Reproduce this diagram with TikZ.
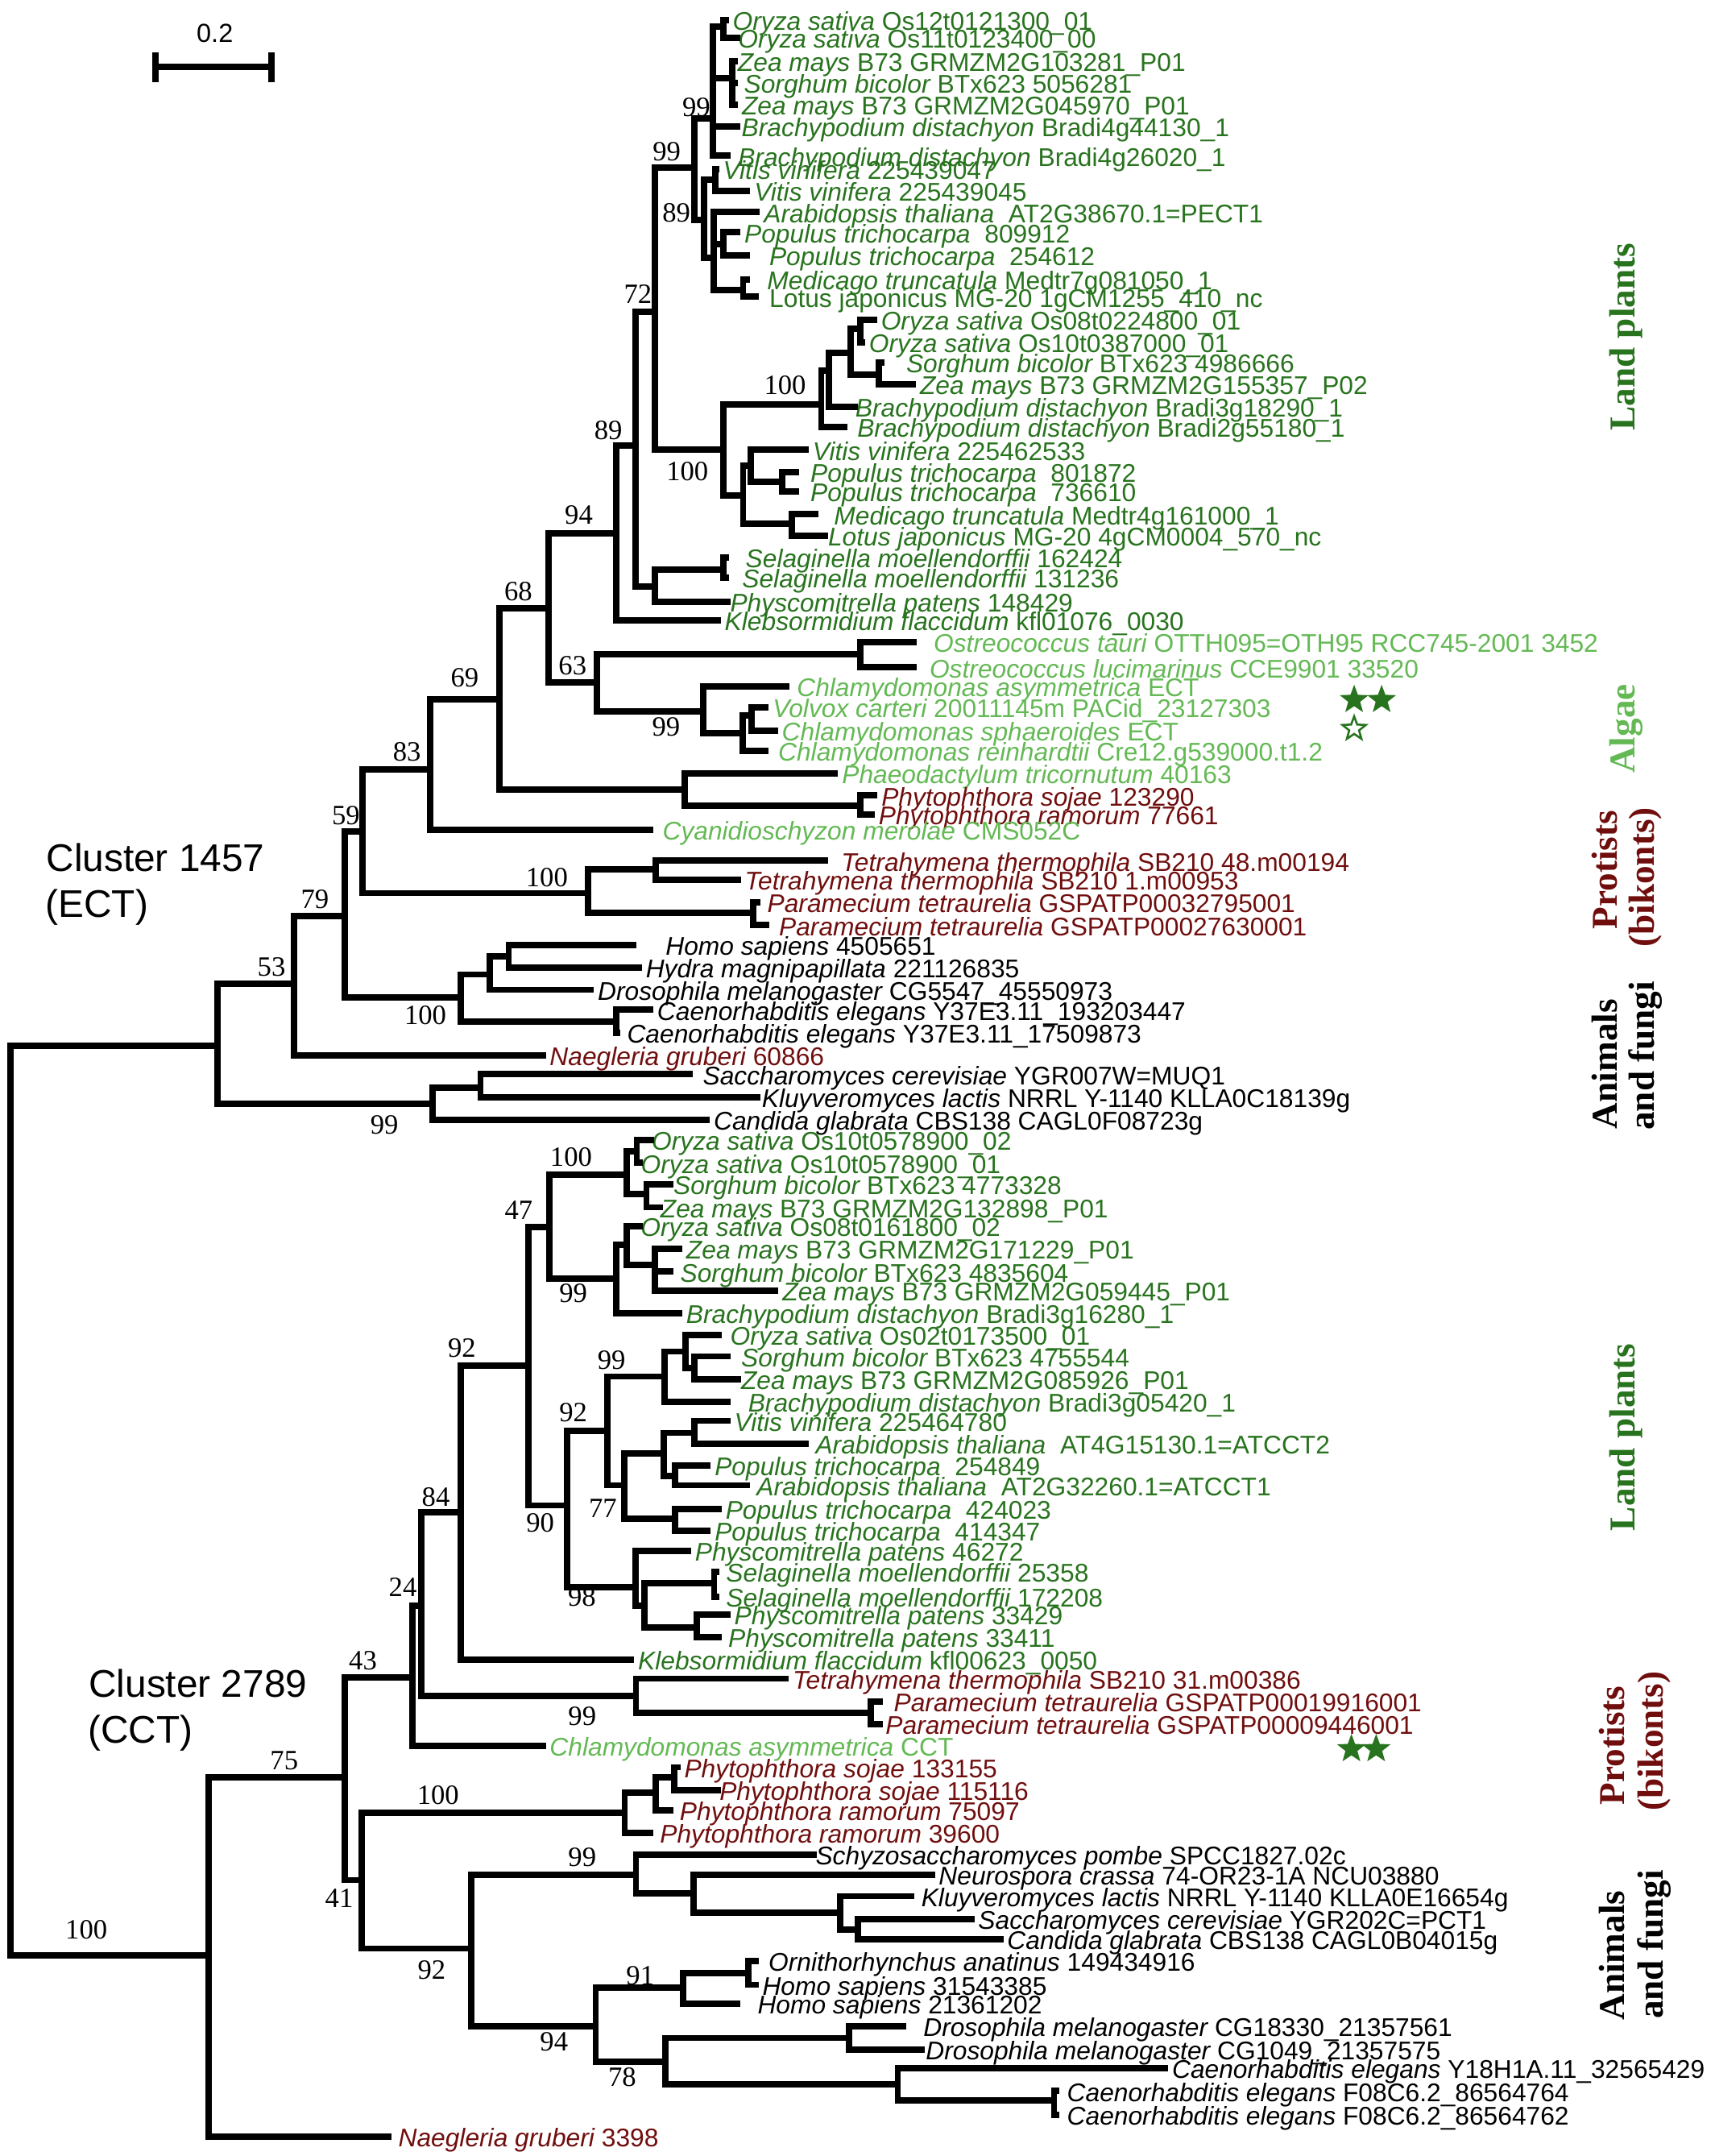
\documentclass[tikz,border=0pt]{standalone}
\usepackage{fontspec}
\usetikzlibrary{shapes.geometric}
\setmainfont{Liberation Sans}
\newfontfamily\serifnum{Liberation Serif}
\definecolor{landgreen}{RGB}{40,115,30}
\definecolor{algagreen}{RGB}{100,185,85}
\definecolor{protred}{RGB}{112,14,14}
\newcommand\taxon[1]{{\itshape #1}}
\newcommand\leaffont{\fontsize{18.6}{20}\selectfont}
\newcommand\bootfont{\serifnum\fontsize{20.3}{22}\selectfont}
\newcommand\groupfont{\serifnum\bfseries\fontsize{26.5}{28}\selectfont}
\newcommand\clusfont{\fontsize{28}{33}\selectfont}
\newcommand\scalefont{\fontsize{19}{21}\selectfont}
\tikzstyle{branch} = [line width=4.6pt, line cap=rect]
\tikzstyle{leaf} = [anchor=west, inner xsep=5pt, inner ysep=0pt,
    text height=18.6pt, text depth=3.7pt, font=\leaffont]
\tikzstyle{land} = [text=landgreen]
\tikzstyle{alga} = [text=algagreen]
\tikzstyle{prot} = [text=protred]
\tikzstyle{boot} = [inner sep=0pt, font=\bootfont]
\tikzstyle{group} = [rotate=90, anchor=base, inner sep=0pt, font=\groupfont]
\tikzstyle{clus} = [anchor=base west, inner sep=0pt, font=\clusfont]
\tikzstyle{starfill} = [star, star points=5, star point ratio=2.4,
    fill=landgreen, inner sep=0pt, minimum size=22pt]
\tikzstyle{starline} = [star, star points=5, star point ratio=2.4,
    draw=landgreen, line width=1.5pt, inner sep=0pt, minimum size=18pt]

\begin{document}
\begin{tikzpicture}[x=1pt, y=-1pt]
    \useasboundingbox (0,0) rectangle (1247,1568);
    % scale bar
    \coordinate (sbl) at (113.3,48.8);
    \coordinate (sbr) at (197.5,48.8);
    \draw [line width=4.6pt] (sbl) -- (sbr);
    \draw [line width=4.6pt] ([yshift=10.7pt]sbl) -- ([yshift=-10.8pt]sbl);
    \draw [line width=4.6pt] ([yshift=10.7pt]sbr) -- ([yshift=-10.8pt]sbr);
    \node [inner sep=0pt, font=\scalefont] (sblab) at (156.3,24.4) {0.2};

    % internal nodes, cluster 1457
    \coordinate (root) at (7.8,1091);
    \coordinate (n53) at (158.3,760.8);
    \coordinate (n79) at (213.8,715.5);
    \coordinate (n59) at (250.8,666.1);
    \coordinate (n83) at (263.6,604.5);
    \coordinate (n69) at (313,559.6);
    \coordinate (n68) at (363.5,508.4);
    \coordinate (n94) at (398.8,442.4);
    \coordinate (n89b) at (448.2,387.7);
    \coordinate (n72) at (462.4,324.2);
    \coordinate (n99b) at (476.6,226.6);
    \coordinate (n99a) at (505,122);
    \coordinate (nB) at (518.5,86);
    \coordinate (nA) at (526.3,19.5);
    \coordinate (nZS) at (532.6,56.6);
    \coordinate (n89) at (512.1,160.2);
    \coordinate (nVC) at (520.1,130.9);
    \coordinate (nRos) at (519.2,187.5);
    \coordinate (nPop) at (526.3,177.7);
    \coordinate (nML) at (540.5,211);
    \coordinate (n100a) at (526.3,327.2);
    \coordinate (nMono) at (597.4,294);
    \coordinate (nIn1) at (603,269.5);
    \coordinate (nIn2) at (618.7,256.8);
    \coordinate (nOC) at (625.8,239.3);
    \coordinate (nSZ) at (639.4,272.5);
    \coordinate (nDic) at (540.5,360.4);
    \coordinate (nDn1) at (546.2,338.9);
    \coordinate (nPop2) at (569,350.6);
    \coordinate (nML2) at (576,380.9);
    \coordinate (nSP) at (476.6,426.8);
    \coordinate (nSel) at (526.3,414.1);
    \coordinate (n63) at (434.1,496.1);
    \coordinate (nOst) at (625.8,475.6);
    \coordinate (nChl) at (511.5,517.6);
    \coordinate (nVCh) at (540,533.2);
    \coordinate (nVol) at (546.8,520.5);
    \coordinate (nPP) at (498,574.2);
    \coordinate (nPhy) at (625.8,585.9);
    \coordinate (nCil) at (427.6,649.5);
    \coordinate (nTet) at (477,632.3);
    \coordinate (nPar) at (548,663.7);
    \coordinate (nAni) at (335.1,725.6);
    \coordinate (nHHD) at (356.5,708.7);
    \coordinate (nHH) at (370,695.4);
    \coordinate (nCel) at (448.2,743.2);
    \coordinate (nYst) at (314.6,802.8);
    \coordinate (nSK) at (349.5,791);

    % internal nodes, cluster 2789
    \coordinate (mroot) at (151.7,1422);
    \coordinate (m75) at (250.8,1292.5);
    \coordinate (m43) at (300.2,1219.9);
    \coordinate (m24) at (306.6,1168);
    \coordinate (m84) at (335.2,1099.7);
    \coordinate (mB) at (384.4,993.3);
    \coordinate (mA) at (399.7,892.2);
    \coordinate (m100) at (455.9,854.5);
    \coordinate (mOC) at (463.2,837.5);
    \coordinate (mSZ) at (470.2,868.2);
    \coordinate (m99) at (448,929.7);
    \coordinate (mN1) at (455.9,905.3);
    \coordinate (mN2) at (476.5,920);
    \coordinate (m90) at (412.4,1094.8);
    \coordinate (m92b) at (441.6,1040.7);
    \coordinate (m99b) at (483.5,1001.1);
    \coordinate (mN3) at (498.8,982.9);
    \coordinate (mSZ3) at (505.1,994.7);
    \coordinate (m77) at (454.3,1080.2);
    \coordinate (mN4) at (482.9,1056.8);
    \coordinate (mVA) at (505.1,1042.1);
    \coordinate (mPA) at (490.8,1073.4);
    \coordinate (mPop3) at (490.8,1104.6);
    \coordinate (m98) at (462.2,1154.4);
    \coordinate (mN5) at (468.6,1168);
    \coordinate (mSel2) at (519.4,1151.5);
    \coordinate (mPh2) at (506.7,1183.7);
    \coordinate (mTP) at (462.6,1233.5);
    \coordinate (mPar2) at (633.2,1245.7);
    \coordinate (m41) at (263.2,1367.3);
    \coordinate (mPhy) at (454.4,1318.5);
    \coordinate (mPh1) at (477,1303.8);
    \coordinate (mPhC) at (490.5,1292.5);
    \coordinate (m92c) at (342.7,1417.1);
    \coordinate (mFun) at (462.6,1363.4);
    \coordinate (mF1) at (504.5,1377.1);
    \coordinate (mF2) at (611.2,1390.8);
    \coordinate (mSC) at (623.8,1403.5);
    \coordinate (mAnm) at (433.3,1473.8);
    \coordinate (mVert) at (497.1,1445.5);
    \coordinate (mOH) at (544.2,1434.8);
    \coordinate (m78) at (484,1499.2);
    \coordinate (mDro) at (617.5,1482.1);
    \coordinate (mCe) at (653,1515.8);
    \coordinate (mCeC) at (766.7,1527.5);

    % leaves, cluster 1457
    \node [leaf, land] (u1) at (527.8,14.6) {\taxon{Oryza sativa} Os12t0121300\_01};
    \node [leaf, land, inner xsep=0.5pt] (u2) at (536.3,27.3) {\taxon{Oryza sativa} Os11t0123400\_00};
    \node [leaf, land, inner xsep=2pt] (u3) at (534.5,44.5) {\taxon{Zea mays} B73 GRMZM2G103281\_P01};
    \node [leaf, land, inner xsep=6.5pt] (u4) at (534.5,60.5) {\taxon{Sorghum bicolor} BTx623 5056281};
    \node [leaf, land] (u5) at (534.5,76.2) {\taxon{Zea mays} B73 GRMZM2G045970\_P01};
    \node [leaf, land, inner xsep=3pt] (u6) at (536.3,91.8) {\taxon{Brachypodium distachyon} Bradi4g44130\_1};
    \node [leaf, land, inner xsep=7.5pt] (u7) at (529.2,113.3) {\taxon{Brachypodium distachyon} Bradi4g26020\_1};
    \node [leaf, land] (u8) at (520.7,123) {\taxon{Vitis vinifera} 225439047};
    \node [leaf, land] (u9) at (543.4,138.7) {\taxon{Vitis vinifera} 225439045};
    \node [leaf, land] (u10) at (550.5,154.3) {\taxon{Arabidopsis thaliana}~~AT2G38670.1=PECT1};
    \node [leaf, land] (u11) at (536.3,169) {\taxon{Populus trichocarpa}~~809912};
    \node [leaf, land, inner xsep=16pt] (u12) at (543.4,185.5) {\taxon{Populus trichocarpa}~~254612};
    \node [leaf, land, inner xsep=14.5pt] (u13) at (543.4,203.1) {\taxon{Medicago truncatula} Medtr7g081050\_1};
    \node [leaf, land, inner xsep=10pt] (u14) at (549.5,215.8) {Lotus japonicus MG-20 1gCM1255\_410\_nc};
    \node [leaf, land] (u15) at (635.7,232.4) {\taxon{Oryza sativa} Os08t0224800\_01};
    \node [leaf, land] (u16) at (627,249) {\taxon{Oryza sativa} Os10t0387000\_01};
    \node [leaf, land, inner xsep=18pt] (u17) at (641,263.7) {\taxon{Sorghum bicolor} BTx623 4986666};
    \node [leaf, land] (u18) at (664,279.3) {\taxon{Zea mays} B73 GRMZM2G155357\_P02};
    \node [leaf, land, inner xsep=0.5pt] (u19) at (621.5,295.9) {\taxon{Brachypodium distachyon} Bradi3g18290\_1};
    \node [leaf, land, inner xsep=9pt] (u20) at (614.4,310.5) {\taxon{Brachypodium distachyon} Bradi2g55180\_1};
    \node [leaf, land] (u21) at (586,327.2) {\taxon{Vitis vinifera} 225462533};
    \node [leaf, land, inner xsep=10.5pt] (u22) at (578.9,343.4) {\taxon{Populus trichocarpa}~~801872};
    \node [leaf, land, inner xsep=10.5pt] (u23) at (578.9,357.4) {\taxon{Populus trichocarpa}~~736610};
    \node [leaf, land, inner xsep=13.5pt] (u24) at (593,374) {\taxon{Medicago truncatula} Medtr4g161000\_1};
    \node [leaf, land, inner xsep=2pt] (u25) at (600.2,389.7) {\taxon{Lotus japonicus} MG-20 4gCM0004\_570\_nc};
    \node [leaf, land, inner xsep=14.5pt] (u26) at (527.7,405.3) {\taxon{Selaginella moellendorffii} 162424};
    \node [leaf, land, inner xsep=12pt] (u27) at (527.7,420) {\taxon{Selaginella moellendorffii} 131236};
    \node [leaf, land, inner xsep=2pt] (u28) at (529,437.5) {\taxon{Physcomitrella patens} 148429};
    \node [leaf, land] (u29) at (522,451.2) {\taxon{Klebsormidium flaccidum} kfl01076\_0030};
    \node [leaf, alga, inner xsep=14.5pt] (u30) at (664.5,466.8) {\taxon{Ostreococcus tauri} OTTH095=OTH95 RCC745-2001 3452};
    \node [leaf, alga, inner xsep=11.5pt] (u31) at (664.5,485.4) {\taxon{Ostreococcus lucimarinus} CCE9901 33520};
    \node [leaf, alga, inner xsep=7.5pt] (u32) at (572,499) {\taxon{Chlamydomonas asymmetrica} ECT};
    \node [leaf, alga] (u33) at (556.9,514.6) {\taxon{Volvox carteri} 20011145m PACid\_23127303};
    \node [leaf, alga] (u34) at (563.6,531.3) {\taxon{Chlamydomonas sphaeroides} ECT};
    \node [leaf, alga, inner xsep=9pt] (u35) at (556.9,545.9) {\taxon{Chlamydomonas reinhardtii} Cre12.g539000.t1.2};
    \node [leaf, alga] (u36) at (607.3,562.5) {\taxon{Phaeodactylum tricornutum} 40163};
    \node [leaf, prot] (u37) at (636,578.5) {\taxon{Phytophthora sojae} 123290};
    \node [leaf, prot] (u38) at (634,592.2) {\taxon{Phytophthora ramorum} 77661};
    \node [leaf, alga, inner xsep=9pt] (u39) at (472.8,603.5) {\taxon{Cyanidioschyzon merolae} CMS052C};
    \node [leaf, prot, inner xsep=11.5pt] (u40) at (600.3,626) {\taxon{Tetrahymena thermophila} SB210 48.m00194};
    \node [leaf, prot] (u41) at (536.6,639.7) {\taxon{Tetrahymena thermophila} SB210 1.m00953};
    \node [leaf, prot, inner xsep=7pt] (u42) at (551,656.3) {\taxon{Paramecium tetraurelia} GSPATP00032795001};
    \node [leaf, prot, inner xsep=9.5pt] (u43) at (557,672.9) {\taxon{Paramecium tetraurelia} GSPATP00027630001};
    \node [leaf, inner xsep=23.5pt] (u44) at (460.5,687.2) {\taxon{Homo sapiens} 4505651};
    \node [leaf] (u45) at (464.6,703.6) {\taxon{Hydra magnipapillata} 221126835};
    \node [leaf] (u46) at (429.7,719.8) {\taxon{Drosophila melanogaster} CG5547\_45550973};
    \node [leaf] (u47) at (472.9,734.4) {\taxon{Caenorhabditis elegans} Y37E3.11\_193203447};
    \node [leaf, inner xsep=7pt] (u48) at (449,751) {\taxon{Caenorhabditis elegans} Y37E3.11\_17509873};
    \node [leaf, prot] (u49) at (394.7,767.6) {\taxon{Naegleria gruberi} 60866};
    \node [leaf, inner xsep=9.5pt] (u50) at (501.6,781.3) {\taxon{Saccharomyces cerevisiae} YGR007W=MUQ1};
    \node [leaf, inner xsep=3pt] (u51) at (551,797.9) {\taxon{Kluyveromyces lactis} NRRL Y-1140 KLLA0C18139g};
    \node [leaf] (u52) at (514,814.5) {\taxon{Candida glabrata} CBS138 CAGL0F08723g};

    % leaves, cluster 2789
    \node [leaf, land, inner xsep=0.5pt] (l53) at (473.4,829.2) {\taxon{Oryza sativa} Os10t0578900\_02};
    \node [leaf, land, inner xsep=1pt] (l54) at (465,845.7) {\taxon{Oryza sativa} Os10t0578900\_01};
    \node [leaf, land, inner xsep=2pt] (l55) at (487.7,861.4) {\taxon{Sorghum bicolor} BTx623 4773328};
    \node [leaf, land, inner xsep=0.5pt] (l56) at (479.7,878) {\taxon{Zea mays} B73 GRMZM2G132898\_P01};
    \node [leaf, land, inner xsep=0.5pt] (l57) at (465.4,891.7) {\taxon{Oryza sativa} Os08t0161800\_02};
    \node [leaf, land] (l58) at (494,908.3) {\taxon{Zea mays} B73 GRMZM2G171229\_P01};
    \node [leaf, land, inner xsep=7pt] (l59) at (487.7,924.8) {\taxon{Sorghum bicolor} BTx623 4835604};
    \node [leaf, land] (l60) at (564,938.5) {\taxon{Zea mays} B73 GRMZM2G059445\_P01};
    \node [leaf, land] (l61) at (494,955) {\taxon{Brachypodium distachyon} Bradi3g16280\_1};
    \node [leaf, land, inner xsep=8.5pt] (l62) at (522.6,970.7) {\taxon{Oryza sativa} Os02t0173500\_01};
    \node [leaf, land, inner xsep=10pt] (l63) at (529,986.4) {\taxon{Sorghum bicolor} BTx623 4755544};
    \node [leaf, land, inner xsep=2pt] (l64) at (536.9,1003) {\taxon{Zea mays} B73 GRMZM2G085926\_P01};
    \node [leaf, land, inner xsep=15pt] (l65) at (529,1019.7) {\taxon{Brachypodium distachyon} Bradi3g05420\_1};
    \node [leaf, land] (l66) at (529,1033.3) {\taxon{Vitis vinifera} 225464780};
    \node [leaf, land, inner xsep=7pt] (l67) at (586.1,1049.9) {\taxon{Arabidopsis thaliana}~~AT4G15130.1=ATCCT2};
    \node [leaf, land] (l68) at (514.7,1065.6) {\taxon{Populus trichocarpa}~~254849};
    \node [leaf, land, inner xsep=7pt] (l69) at (543.2,1080.2) {\taxon{Arabidopsis thaliana}~~AT2G32260.1=ATCCT1};
    \node [leaf, land] (l70) at (522.6,1097.4) {\taxon{Populus trichocarpa}~~424023};
    \node [leaf, land] (l71) at (514.7,1113.4) {\taxon{Populus trichocarpa}~~414347};
    \node [leaf, land] (l72) at (500.4,1128) {\taxon{Physcomitrella patens} 46272};
    \node [leaf, land, inner xsep=7pt] (l73) at (521,1143.1) {\taxon{Selaginella moellendorffii} 25358};
    \node [leaf, land, inner xsep=7pt] (l74) at (521,1161.3) {\taxon{Selaginella moellendorffii} 172208};
    \node [leaf, land] (l75) at (529,1174) {\taxon{Physcomitrella patens} 33429};
    \node [leaf, land, inner xsep=7pt] (l76) at (522.6,1190.5) {\taxon{Physcomitrella patens} 33411};
    \node [leaf, land] (l77) at (459,1207.2) {\taxon{Klebsormidium flaccidum} kfl00623\_0050};
    \node [leaf, prot] (l78) at (571.5,1220.8) {\taxon{Tetrahymena thermophila} SB210 31.m00386};
    \node [leaf, prot, inner xsep=10pt] (l79) at (640,1237.4) {\taxon{Paramecium tetraurelia} GSPATP00019916001};
    \node [leaf, prot, inner xsep=4pt] (l80) at (640,1254) {\taxon{Paramecium tetraurelia} GSPATP00009446001};
    \node [leaf, alga] (l81) at (394.7,1269.7) {\taxon{Chlamydomonas asymmetrica} CCT};
    \node [leaf, prot] (l82) at (492.6,1285.3) {\taxon{Phytophthora sojae} 133155};
    \node [leaf, prot, inner xsep=1pt] (l83) at (522.2,1301.9) {\taxon{Phytophthora sojae} 115116};
    \node [leaf, prot, inner xsep=7pt] (l84) at (487.3,1316.5) {\taxon{Phytophthora ramorum} 75097};
    \node [leaf, prot, inner xsep=7pt] (l85) at (472.9,1333.1) {\taxon{Phytophthora ramorum} 39600};
    \node [leaf, inner xsep=1pt] (l86) at (592.1,1348.8) {\taxon{Schyzosaccharomyces pombe} SPCC1827.02c};
    \node [leaf] (l87) at (677.7,1363.4) {\taxon{Neurospora crassa} 74-OR23-1A NCU03880};
    \node [leaf, inner xsep=7pt] (l88) at (663,1379) {\taxon{Kluyveromyces lactis} NRRL Y-1140 KLLA0E16654g};
    \node [leaf] (l89) at (706.4,1395.7) {\taxon{Saccharomyces cerevisiae} YGR202C=PCT1};
    \node [leaf] (l90) at (727.5,1410.3) {\taxon{Candida glabrata} CBS138 CAGL0B04015g};
    \node [leaf, inner xsep=9.5pt] (l91) at (549.4,1426) {\taxon{Ornithorhynchus anatinus} 149434916};
    \node [leaf] (l92) at (549.4,1443.5) {\taxon{Homo sapiens} 31543385};
    \node [leaf, inner xsep=14.5pt] (l93) at (536.4,1457.2) {\taxon{Homo sapiens} 21361202};
    \node [leaf, inner xsep=14.5pt] (l94) at (657,1473.8) {\taxon{Drosophila melanogaster} CG18330\_21357561};
    \node [leaf, inner xsep=3pt] (l95) at (670.3,1490.4) {\taxon{Drosophila melanogaster} CG1049\_21357575};
    \node [leaf] (l96) at (847.4,1504) {\taxon{Caenorhabditis elegans} Y18H1A.11\_32565429};
    \node [leaf, inner xsep=7.5pt] (l97) at (768.5,1520.7) {\taxon{Caenorhabditis elegans} F08C6.2\_86564764};
    \node [leaf, inner xsep=7.5pt] (l98) at (768.5,1538.2) {\taxon{Caenorhabditis elegans} F08C6.2\_86564762};
    \node [leaf, prot, inner xsep=7pt] (l99) at (282.6,1553.9) {\taxon{Naegleria gruberi} 3398};

    % branches, cluster 1457
    \draw [branch] (root) |- (n53);
    \draw [branch] (root) |- (mroot);
    \draw [branch] (n53) |- (n79);
    \draw [branch] (n53) |- (nYst);
    \draw [branch] (n79) |- (n59);
    \draw [branch] (n79) |- (u49.west);
    \draw [branch] (n59) |- (n83);
    \draw [branch] (n59) |- (nAni);
    \draw [branch] (n83) |- (n69);
    \draw [branch] (n83) |- (nCil);
    \draw [branch] (n69) |- (n68);
    \draw [branch] (n69) |- (u39.west);
    \draw [branch] (n68) |- (n94);
    \draw [branch] (n68) |- (nPP);
    \draw [branch] (n94) |- (n89b);
    \draw [branch] (n94) |- (n63);
    \draw [branch] (n89b) |- (n72);
    \draw [branch] (n89b) |- (u29.west);
    \draw [branch] (n72) |- (n99b);
    \draw [branch] (n72) |- (nSP);
    \draw [branch] (n99b) |- (n99a);
    \draw [branch] (n99b) |- (n100a);
    \draw [branch] (n99a) |- (nB);
    \draw [branch] (n99a) |- (n89);
    \draw [branch] (nB) |- (nA);
    \draw [branch] (nB) |- (nZS);
    \draw [branch] (nB) |- (u6.west);
    \draw [branch] (nB) |- (u7.west);
    \draw [branch] (nA) |- (u1.west);
    \draw [branch] (nA) |- (u2.west);
    \draw [branch] (nZS) |- (u3.west);
    \draw [branch] (nZS) |- (u4.west);
    \draw [branch] (nZS) |- (u5.west);
    \draw [branch] (n89) |- (nVC);
    \draw [branch] (n89) |- (nRos);
    \draw [branch] (nVC) |- (u8.west);
    \draw [branch] (nVC) |- (u9.west);
    \draw [branch] (nRos) |- (u10.west);
    \draw [branch] (nRos) |- (nPop);
    \draw [branch] (nRos) |- (nML);
    \draw [branch] (nPop) |- (u11.west);
    \draw [branch] (nPop) |- (u12.west);
    \draw [branch] (nML) |- (u13.west);
    \draw [branch] (nML) |- (u14.west);
    \draw [branch] (n100a) |- (nMono);
    \draw [branch] (n100a) |- (nDic);
    \draw [branch] (nMono) |- (nIn1);
    \draw [branch] (nMono) |- (u20.west);
    \draw [branch] (nIn1) |- (nIn2);
    \draw [branch] (nIn1) |- (u19.west);
    \draw [branch] (nIn2) |- (nOC);
    \draw [branch] (nIn2) |- (nSZ);
    \draw [branch] (nOC) |- (u15.west);
    \draw [branch] (nOC) |- (u16.west);
    \draw [branch] (nSZ) |- (u17.west);
    \draw [branch] (nSZ) |- (u18.west);
    \draw [branch] (nDic) |- (nDn1);
    \draw [branch] (nDic) |- (nML2);
    \draw [branch] (nDn1) |- (u21.west);
    \draw [branch] (nDn1) |- (nPop2);
    \draw [branch] (nPop2) |- (u22.west);
    \draw [branch] (nPop2) |- (u23.west);
    \draw [branch] (nML2) |- (u24.west);
    \draw [branch] (nML2) |- (u25.west);
    \draw [branch] (nSP) |- (nSel);
    \draw [branch] (nSP) |- (u28.west);
    \draw [branch] (nSel) |- (u26.west);
    \draw [branch] (nSel) |- (u27.west);
    \draw [branch] (n63) |- (nOst);
    \draw [branch] (n63) |- (nChl);
    \draw [branch] (nOst) |- (u30.west);
    \draw [branch] (nOst) |- (u31.west);
    \draw [branch] (nChl) |- (u32.west);
    \draw [branch] (nChl) |- (nVCh);
    \draw [branch] (nVCh) |- (nVol);
    \draw [branch] (nVCh) |- (u35.west);
    \draw [branch] (nVol) |- (u33.west);
    \draw [branch] (nVol) |- (u34.west);
    \draw [branch] (nPP) |- (u36.west);
    \draw [branch] (nPP) |- (nPhy);
    \draw [branch] (nPhy) |- (u37.west);
    \draw [branch] (nPhy) |- (u38.west);
    \draw [branch] (nCil) |- (nTet);
    \draw [branch] (nCil) |- (nPar);
    \draw [branch] (nTet) |- (u40.west);
    \draw [branch] (nTet) |- (u41.west);
    \draw [branch] (nPar) |- (u42.west);
    \draw [branch] (nPar) |- (u43.west);
    \draw [branch] (nAni) |- (nHHD);
    \draw [branch] (nAni) |- (nCel);
    \draw [branch] (nHHD) |- (nHH);
    \draw [branch] (nHHD) |- (u46.west);
    \draw [branch] (nHH) |- (u44.west);
    \draw [branch] (nHH) |- (u45.west);
    \draw [branch] (nCel) |- (u47.west);
    \draw [branch] (nCel) |- (u48.west);
    \draw [branch] (nYst) |- (nSK);
    \draw [branch] (nYst) |- (u52.west);
    \draw [branch] (nSK) |- (u50.west);
    \draw [branch] (nSK) |- (u51.west);

    % branches, cluster 2789
    \draw [branch] (mroot) |- (m75);
    \draw [branch] (mroot) |- (l99.west);
    \draw [branch] (m75) |- (m43);
    \draw [branch] (m75) |- (m41);
    \draw [branch] (m43) |- (m24);
    \draw [branch] (m43) |- (l81.west);
    \draw [branch] (m24) |- (m84);
    \draw [branch] (m24) |- (mTP);
    \draw [branch] (m84) |- (mB);
    \draw [branch] (m84) |- (l77.west);
    \draw [branch] (mB) |- (mA);
    \draw [branch] (mB) |- (m90);
    \draw [branch] (mA) |- (m100);
    \draw [branch] (mA) |- (m99);
    \draw [branch] (m100) |- (mOC);
    \draw [branch] (m100) |- (mSZ);
    \draw [branch] (mOC) |- (l53.west);
    \draw [branch] (mOC) |- (l54.west);
    \draw [branch] (mSZ) |- (l55.west);
    \draw [branch] (mSZ) |- (l56.west);
    \draw [branch] (m99) |- (mN1);
    \draw [branch] (m99) |- (l61.west);
    \draw [branch] (mN1) |- (l57.west);
    \draw [branch] (mN1) |- (mN2);
    \draw [branch] (mN2) |- (l58.west);
    \draw [branch] (mN2) |- (l59.west);
    \draw [branch] (mN2) |- (l60.west);
    \draw [branch] (m90) |- (m92b);
    \draw [branch] (m90) |- (m98);
    \draw [branch] (m92b) |- (m99b);
    \draw [branch] (m92b) |- (m77);
    \draw [branch] (m99b) |- (mN3);
    \draw [branch] (m99b) |- (l65.west);
    \draw [branch] (mN3) |- (l62.west);
    \draw [branch] (mN3) |- (mSZ3);
    \draw [branch] (mSZ3) |- (l63.west);
    \draw [branch] (mSZ3) |- (l64.west);
    \draw [branch] (m77) |- (mN4);
    \draw [branch] (m77) |- (mPop3);
    \draw [branch] (mN4) |- (mVA);
    \draw [branch] (mN4) |- (mPA);
    \draw [branch] (mVA) |- (l66.west);
    \draw [branch] (mVA) |- (l67.west);
    \draw [branch] (mPA) |- (l68.west);
    \draw [branch] (mPA) |- (l69.west);
    \draw [branch] (mPop3) |- (l70.west);
    \draw [branch] (mPop3) |- (l71.west);
    \draw [branch] (m98) |- (l72.west);
    \draw [branch] (m98) |- (mN5);
    \draw [branch] (mN5) |- (mSel2);
    \draw [branch] (mN5) |- (mPh2);
    \draw [branch] (mSel2) |- (l73.west);
    \draw [branch] (mSel2) |- (l74.west);
    \draw [branch] (mPh2) |- (l75.west);
    \draw [branch] (mPh2) |- (l76.west);
    \draw [branch] (mTP) |- (l78.west);
    \draw [branch] (mTP) |- (mPar2);
    \draw [branch] (mPar2) |- (l79.west);
    \draw [branch] (mPar2) |- (l80.west);
    \draw [branch] (m41) |- (mPhy);
    \draw [branch] (m41) |- (m92c);
    \draw [branch] (mPhy) |- (mPh1);
    \draw [branch] (mPhy) |- (l85.west);
    \draw [branch] (mPh1) |- (mPhC);
    \draw [branch] (mPh1) |- (l84.west);
    \draw [branch] (mPhC) |- (l82.west);
    \draw [branch] (mPhC) |- (l83.west);
    \draw [branch] (m92c) |- (mFun);
    \draw [branch] (m92c) |- (mAnm);
    \draw [branch] (mFun) |- (l86.west);
    \draw [branch] (mFun) |- (mF1);
    \draw [branch] (mF1) |- (l87.west);
    \draw [branch] (mF1) |- (mF2);
    \draw [branch] (mF2) |- (l88.west);
    \draw [branch] (mF2) |- (mSC);
    \draw [branch] (mSC) |- (l89.west);
    \draw [branch] (mSC) |- (l90.west);
    \draw [branch] (mAnm) |- (mVert);
    \draw [branch] (mAnm) |- (m78);
    \draw [branch] (mVert) |- (mOH);
    \draw [branch] (mVert) |- (l93.west);
    \draw [branch] (mOH) |- (l91.west);
    \draw [branch] (mOH) |- (l92.west);
    \draw [branch] (m78) |- (mDro);
    \draw [branch] (m78) |- (mCe);
    \draw [branch] (mDro) |- (l94.west);
    \draw [branch] (mDro) |- (l95.west);
    \draw [branch] (mCe) |- (l96.west);
    \draw [branch] (mCe) |- (mCeC);
    \draw [branch] (mCeC) |- (l97.west);
    \draw [branch] (mCeC) |- (l98.west);

    % bootstrap values
    \node [boot] (b1) at (506.5,78) {99};
    \node [boot] (b2) at (485,110) {99};
    \node [boot] (b3) at (492,155) {89};
    \node [boot] (b4) at (464,214) {72};
    \node [boot] (b5) at (571,280) {100};
    \node [boot] (b6) at (500,343) {100};
    \node [boot] (b7) at (442.5,313) {89};
    \node [boot] (b8) at (421,374.5) {94};
    \node [boot] (b9) at (377,430) {68};
    \node [boot] (b10) at (416.5,484) {63};
    \node [boot] (b11) at (338,493) {69};
    \node [boot] (b12) at (484.5,528.4) {99};
    \node [boot] (b13) at (296,547) {83};
    \node [boot] (b14) at (251.6,593) {59};
    \node [boot] (b15) at (397.8,638) {100};
    \node [boot] (b16) at (229,654) {79};
    \node [boot] (b17) at (197.5,703) {53};
    \node [boot] (b18) at (309.4,738.4) {100};
    \node [boot] (b19) at (279.6,818) {99};
    \node [boot] (b20) at (415.4,841.4) {100};
    \node [boot] (b21) at (377.3,880) {47};
    \node [boot] (b22) at (417,940.5) {99};
    \node [boot] (b23) at (336,980.5) {92};
    \node [boot] (b24) at (444.8,989.3) {99};
    \node [boot] (b25) at (417,1027.5) {92};
    \node [boot] (b26) at (317,1088.5) {84};
    \node [boot] (b27) at (438.5,1096.8) {77};
    \node [boot] (b28) at (393,1107.5) {90};
    \node [boot] (b29) at (293,1154.5) {24};
    \node [boot] (b30) at (423.3,1161.7) {98};
    \node [boot] (b31) at (264,1207.5) {43};
    \node [boot] (b32) at (423.5,1248) {99};
    \node [boot] (b33) at (206.7,1280.4) {75};
    \node [boot] (b34) at (318.6,1305.8) {100};
    \node [boot] (b35) at (423.5,1350.7) {99};
    \node [boot] (b36) at (246.7,1380.4) {41};
    \node [boot] (b37) at (62.8,1403.5) {100};
    \node [boot] (b38) at (314,1432.8) {92};
    \node [boot] (b39) at (465.7,1436.7) {91};
    \node [boot] (b40) at (403,1485) {94};
    \node [boot] (b41) at (452.6,1510.9) {78};

    % clusters and groups
    \node [clus] (c1a) at (33.5,633.7) {Cluster 1457};
    \node [clus] (c1b) at (33,667) {(ECT)};
    \node [clus] (c2a) at (64.5,1234.5) {Cluster 2789};
    \node [clus] (c2b) at (64,1267.6) {(CCT)};
    \node [group, text=landgreen] (gland1) at (1189,245) {Land plants};
    \node [group, text=algagreen] (galga) at (1189,530) {Algae};
    \node [group, text=protred] (gprot1a) at (1176,632.5) {Protists};
    \node [group, text=protred] (gprot1b) at (1203.5,638) {(bikonts)};
    \node [group] (gani1a) at (1176,773.8) {Animals};
    \node [group] (gani1b) at (1203.5,767.8) {and fungi};
    \node [group, text=landgreen] (gland2) at (1189,1045.2) {Land plants};
    \node [group, text=protred] (gprot2a) at (1181.8,1269.4) {Protists};
    \node [group, text=protred] (gprot2b) at (1209.7,1266.3) {(bikonts)};
    \node [group] (gani2a) at (1181.8,1422.2) {Animals};
    \node [group] (gani2b) at (1209.5,1414.2) {and fungi};

    % stars
    \node [starfill] (st1) at (985,509) {};
    \node [starfill] (st2) at (1005,509) {};
    \node [starline] (st3) at (985,530) {};
    \node [starfill] (st4) at (983,1272) {};
    \node [starfill] (st5) at (1001,1272) {};
\end{tikzpicture}
\end{document}
